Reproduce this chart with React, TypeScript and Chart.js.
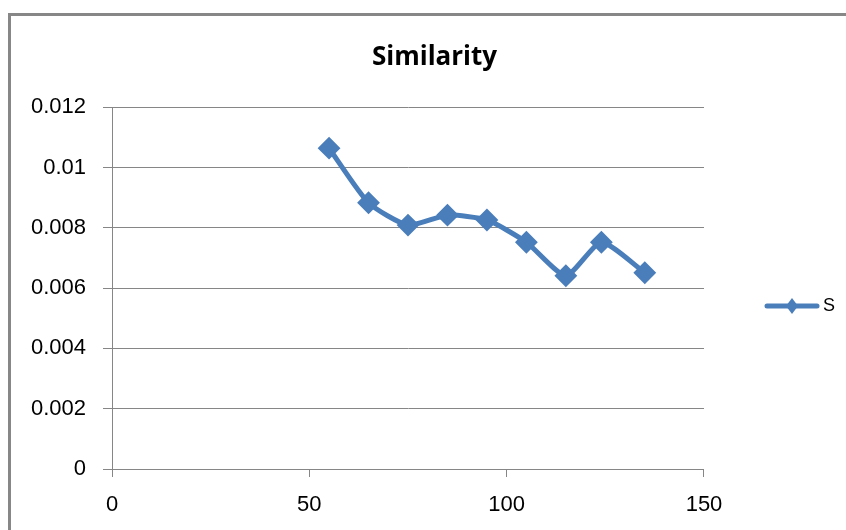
import React, { useEffect, useRef } from 'react';
import { Chart, registerables } from 'chart.js';

Chart.register(...registerables);

const chartTitle = 'Similarity';
const seriesName = 'S';
const xValues = [55, 65, 75, 85, 95, 105, 115, 124, 135];
const yValues = [0.01064, 0.00883, 0.00809, 0.00842, 0.00826, 0.00752, 0.00641, 0.00752, 0.00651];
const xTicks = [0, 50, 100, 150];
const yTicks = [0, 0.002, 0.004, 0.006, 0.008, 0.01, 0.012];

const BLUE = '#4A7EBB';
const GRID = '#868686';

function makeLegendSymbol(): HTMLCanvasElement {
  const c = document.createElement('canvas');
  c.width = 56;
  c.height = 20;
  const g = c.getContext('2d')!;
  g.strokeStyle = BLUE;
  g.lineWidth = 5;
  g.lineCap = 'round';
  g.beginPath();
  g.moveTo(3, 10);
  g.lineTo(53, 10);
  g.stroke();
  g.fillStyle = BLUE;
  g.beginPath();
  g.moveTo(28, 2);
  g.lineTo(34, 10);
  g.lineTo(28, 18);
  g.lineTo(22, 10);
  g.closePath();
  g.fill();
  return c;
}

const framePlugin = {
  id: 'frame',
  beforeDraw(chart: any) {
    const { ctx, width, height } = chart;
    ctx.save();
    ctx.fillStyle = '#ffffff';
    ctx.fillRect(0, 0, width, height);
    ctx.fillStyle = '#878787';
    ctx.fillRect(8, 13, 3, height - 13);
    ctx.fillRect(8, 13, width - 8, 3);
    ctx.restore();
  },
};

export default function App() {
  const ref = useRef<HTMLCanvasElement | null>(null);

  useEffect(() => {
    document.body.style.margin = '0';
    const canvas = ref.current;
    if (!canvas) return;
    const data = xValues.map((x, i) => ({ x, y: yValues[i] }));
    const chart = new Chart(canvas, {
      type: 'line',
      data: {
        datasets: [
          {
            label: seriesName,
            data,
            borderColor: BLUE,
            backgroundColor: BLUE,
            borderWidth: 5,
            tension: 0.2,
            pointStyle: 'rectRot',
            pointRadius: 10,
            pointBorderWidth: 2,
            pointBackgroundColor: BLUE,
            pointBorderColor: BLUE,
            fill: false,
          },
        ],
      },
      options: {
        animation: false,
        responsive: false,
        devicePixelRatio: 1,
        layout: { padding: { left: 24, right: 1, top: 0, bottom: 0 } },
        plugins: {
          title: {
            display: true,
            text: chartTitle,
            color: '#000',
            font: { family: '"Open Sans", "Liberation Sans", sans-serif', size: 26, weight: 'bold' },
            padding: { top: 42, bottom: 34 },
          },
          legend: {
            position: 'right',
            align: 'center',
            title: { display: true, text: '', font: { size: 10 }, padding: { top: 35, bottom: 35 } },
            labels: {
              usePointStyle: true,
              pointStyle: makeLegendSymbol() as any,
              pointStyleWidth: 44,
              padding: 66,
              color: '#000',
              font: { family: '"Liberation Sans", Arial, sans-serif', size: 18 },
            },
          },
          tooltip: { enabled: false },
        },
        scales: {
          x: {
            type: 'linear',
            min: xTicks[0],
            max: xTicks[xTicks.length - 1],
            afterBuildTicks: (scale: any) => {
              scale.ticks = xTicks.map((v) => ({ value: v }));
            },
            afterFit: (scale: any) => {
              scale.height = 61;
            },
            grid: {
              drawOnChartArea: false,
              drawTicks: true,
              tickLength: 8,
              color: GRID,
            },
            border: { display: true, color: GRID, width: 1 },
            ticks: {
              color: '#000',
              padding: 15,
              maxRotation: 0,
              font: { family: '"Liberation Sans", Arial, sans-serif', size: 22 },
            },
          },
          y: {
            type: 'linear',
            min: yTicks[0],
            max: yTicks[yTicks.length - 1],
            afterBuildTicks: (scale: any) => {
              scale.ticks = yTicks.map((v) => ({ value: v }));
            },
            afterFit: (scale: any) => {
              scale.width = 88;
            },
            grid: {
              drawOnChartArea: true,
              drawTicks: true,
              tickLength: 9,
              color: GRID,
              lineWidth: 1,
            },
            border: { display: true, color: GRID, width: 1 },
            ticks: {
              color: '#000',
              padding: 17,
              font: { family: '"Liberation Sans", Arial, sans-serif', size: 22 },
              callback: (v: any) => String(Number(Number(v).toFixed(4))),
            },
          },
        },
      },
      plugins: [framePlugin],
    });
    return () => chart.destroy();
  }, []);

  return (
    <div style={{ width: 846, height: 530 }}>
      <canvas ref={ref} width={846} height={530} style={{ display: 'block' }} />
    </div>
  );
}
